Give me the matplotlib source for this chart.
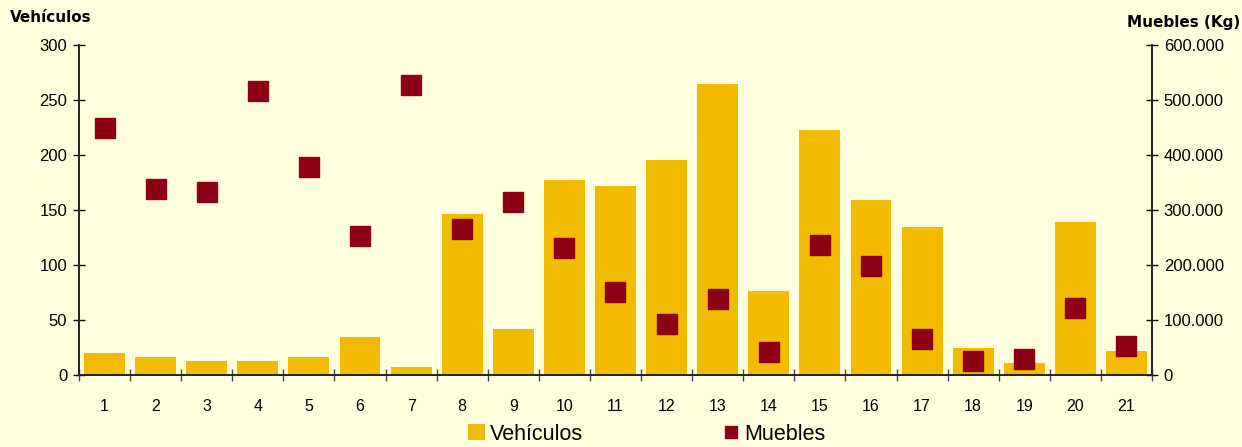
import matplotlib
matplotlib.use("Agg")
import matplotlib.pyplot as plt
from matplotlib.ticker import FuncFormatter, MultipleLocator
from matplotlib.lines import Line2D
from matplotlib.patches import Patch

plt.rcParams['font.family'] = ['Liberation Sans', 'DejaVu Sans']

categories = [str(i) for i in range(1, 22)]
vehiculos = [20, 16, 13, 13, 16, 35, 7, 146, 42, 177, 172, 195, 265, 76, 223, 159, 135, 25, 11, 139, 22]
muebles = [449000, 338000, 333000, 517000, 379000, 253000, 528000, 265000, 315000, 231000,
           151000, 93000, 138000, 42000, 236000, 198000, 66000, 26000, 30000, 121000, 52000]

BG = '#FFFFDE'
BAR = '#F2BB00'
MARK = '#8E0016'

fig = plt.figure(figsize=(12.42, 4.47), dpi=100, facecolor=BG)
ax = fig.add_axes([79/1242, 1-375/447, (1152-79)/1242, (375-45)/447])
ax.set_facecolor(BG)
x = list(range(len(categories)))
ax.bar(x, vehiculos, width=0.8, color=BAR, zorder=2)
ax.set_xlim(-0.5, len(categories)-0.5)
ax.set_ylim(0, 300)
ax.yaxis.set_major_locator(MultipleLocator(50))
ax.set_xticks(x)
ax.set_xticklabels(categories)
ax.set_xticks([i-0.5 for i in range(len(categories)+1)], minor=True)
ax.tick_params(axis='x', which='major', length=0, pad=17, labelsize=11.5)
ax.tick_params(axis='x', which='minor', length=8, direction='inout', width=1, color='#444444')
ax.tick_params(axis='y', direction='inout', length=9, width=1, labelsize=12, pad=4)
ax.spines['top'].set_visible(False)
for s in ['left', 'right', 'bottom']:
    ax.spines[s].set_color('#222222')
    ax.spines[s].set_linewidth(1.2)

ax2 = ax.twinx()
ax2.set_ylim(0, 600000)
ax2.yaxis.set_major_locator(MultipleLocator(100000))
ax2.yaxis.set_major_formatter(FuncFormatter(lambda v, p: '0' if v == 0 else f"{int(v):,}".replace(',', '.')))
ax2.plot(x, muebles, linestyle='none', marker='s', markersize=14.5, color=MARK, zorder=3)
ax2.tick_params(axis='y', direction='inout', length=9, width=1, labelsize=12, pad=4)
ax2.spines['top'].set_visible(False)
for s in ['left', 'right', 'bottom']:
    ax2.spines[s].set_color('#222222')
    ax2.spines[s].set_linewidth(1.2)

fig.text(10/1242, 1-18/447, 'Vehículos', fontsize=11, fontweight='bold', va='center', ha='left',
         family='DejaVu Sans')
fig.text(1240/1242, 1-22/447, 'Muebles (Kg)', fontsize=11, fontweight='bold', va='center', ha='right',
         family='DejaVu Sans')

handles = [Patch(facecolor=BAR, edgecolor='none'),
           Line2D([0], [0], linestyle='none', marker='s', markersize=8.6, color=MARK)]
fig.legend(handles, ['Vehículos', 'Muebles'], loc='center', bbox_to_anchor=(647/1242, 1-434/447),
           ncol=2, frameon=False, fontsize=15.5, columnspacing=6.5, handlelength=0.77,
           handleheight=0.77, handletextpad=0.24, borderpad=0)

fig.savefig('out.png', dpi=100, facecolor=BG)
